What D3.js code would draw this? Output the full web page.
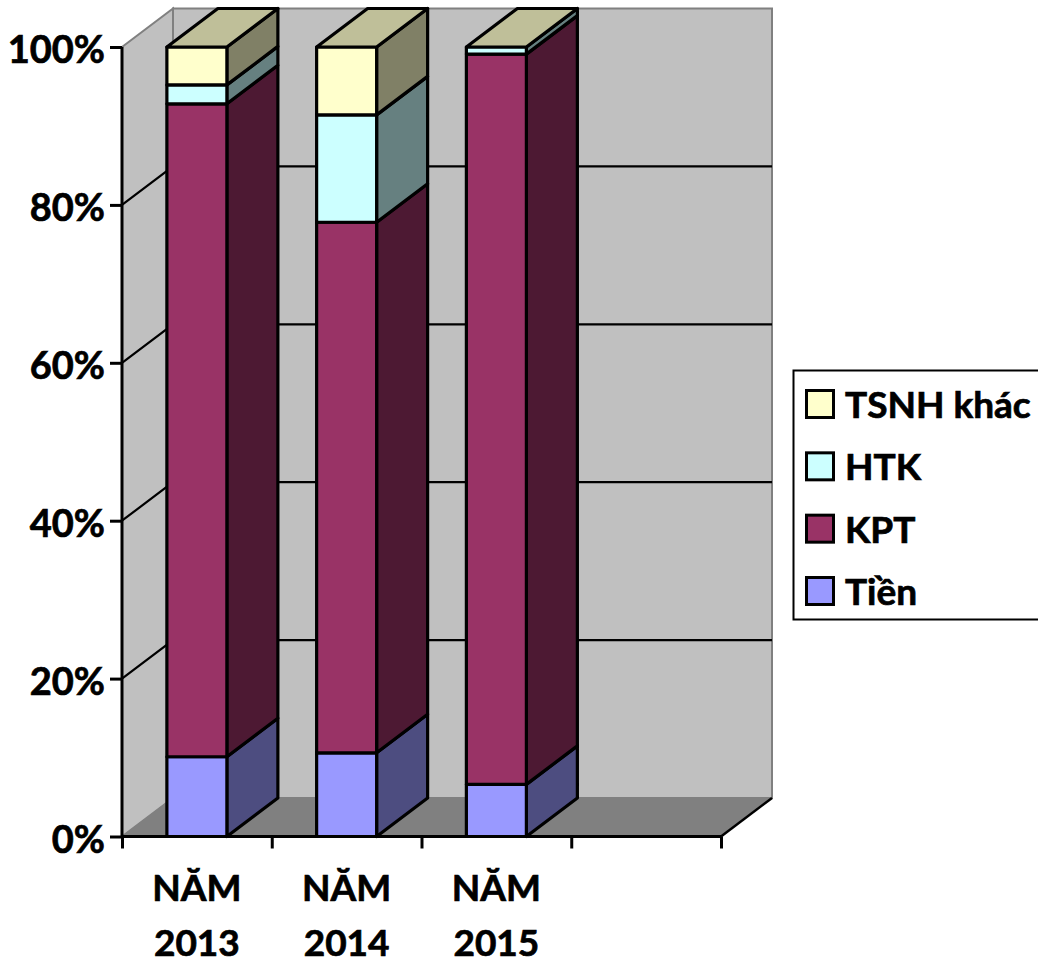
<!DOCTYPE html>
<html>
<head>
<meta charset="utf-8">
<script src="https://cdn.jsdelivr.net/npm/d3@7"></script>
<style>
  html, body { margin: 0; background: #fff; }
  svg { display: block; }
  text { font-family: Lato, "Open Sans", sans-serif; font-weight: 700; fill: #000; stroke: #000; stroke-width: 0.7px; }
</style>
</head>
<body>
<div id="chart"></div>
<script>
const years = ["NĂM 2013", "NĂM 2014", "NĂM 2015"];
const seriesNames = ["Tiền", "KPT", "HTK", "TSNH khác"];
const tien = [10.1, 10.6, 6.6];
const kpt = [82.7, 67.2, 92.5];
const htk = [2.4, 13.6, 0.9];
const khac = [4.8, 8.6, 0];
const yTicks = [0, 20, 40, 60, 80, 100];
const frontColors = ["#9999ff", "#993366", "#ccffff", "#ffffcc"];
const sideColors = ["#4d4d80", "#4d1933", "#668080", "#808066"];
const topColors = ["#bfbfe0", "#bf8099", "#bfe0e0", "#bfbf99"];

const width = 1038;
const height = 960;
const depthX = 51;   // 3d offset of the back wall
const depthY = -38.5;
const barWidth = 60;

const rows = years.map((y, i) => ({
  year: y,
  [seriesNames[0]]: tien[i],
  [seriesNames[1]]: kpt[i],
  [seriesNames[2]]: htk[i],
  [seriesNames[3]]: khac[i]
}));
const stacked = d3.stack().keys(seriesNames)(rows);

const svg = d3.select("#chart").append("svg")
  .attr("width", width)
  .attr("height", height)
  .attr("viewBox", `0 0 ${width} ${height}`);

const xScale = d3.scaleLinear().domain([0, 4]).range([122, 721]);
const yScale = d3.scaleLinear().domain([0, 100]).range([836.5, 47]);

const x0 = xScale(0), x1 = xScale(4);
const y0 = yScale(0), y1 = yScale(100);
const poly = pts => pts.map(p => p.join(",")).join(" ");

// walls
svg.append("polygon")
  .attr("points", poly([[x0 + depthX, y1 + depthY], [x1 + depthX, y1 + depthY], [x1 + depthX, y0 + depthY], [x0 + depthX, y0 + depthY]]))
  .attr("fill", "#c0c0c0").attr("stroke", "#808080").attr("stroke-width", 2);
svg.append("polygon")
  .attr("points", poly([[x0, y1], [x0 + depthX, y1 + depthY], [x0 + depthX, y0 + depthY], [x0, y0]]))
  .attr("fill", "#c0c0c0").attr("stroke", "#808080").attr("stroke-width", 2);
svg.append("polygon")
  .attr("points", poly([[x0, y0], [x0 + depthX, y0 + depthY], [x1 + depthX, y0 + depthY], [x1, y0]]))
  .attr("fill", "#808080").attr("stroke", "#808080").attr("stroke-width", 1);
svg.append("line")
  .attr("x1", x1).attr("y1", y0).attr("x2", x1 + depthX).attr("y2", y0 + depthY)
  .attr("stroke", "#000").attr("stroke-width", 2.5);

// gridlines
const gridTicks = yTicks.filter(t => t > 0 && t < 100);
svg.append("g").selectAll("polyline")
  .data(gridTicks)
  .join("polyline")
  .attr("points", t => poly([[x0, yScale(t)], [x0 + depthX, yScale(t) + depthY], [x1 + depthX, yScale(t) + depthY]]))
  .attr("fill", "none")
  .attr("stroke", "#000")
  .attr("stroke-width", 2.2);

// bars, bottom segment first
const barLayer = svg.append("g")
  .attr("stroke", "#000")
  .attr("stroke-width", 3.2)
  .attr("stroke-linejoin", "round");

years.forEach((year, i) => {
  const left = xScale(i + 0.5) - barWidth / 2;
  const right = left + barWidth;
  stacked.forEach((layer, s) => {
    const bottom = yScale(layer[i][0]);
    const top = yScale(layer[i][1]);
    if (layer[i][1] - layer[i][0] <= 0) return;
    barLayer.append("polygon")
      .attr("points", poly([[right, top], [right + depthX, top + depthY], [right + depthX, bottom + depthY], [right, bottom]]))
      .attr("fill", sideColors[s]);
    barLayer.append("rect")
      .attr("x", left).attr("y", top)
      .attr("width", barWidth).attr("height", bottom - top)
      .attr("fill", frontColors[s]);
  });
  // top face keeps the yellow series shade in all bars
  const topY = yScale(100);
  barLayer.append("polygon")
    .attr("points", poly([[left, topY], [left + depthX, topY + depthY], [right + depthX, topY + depthY], [right, topY]]))
    .attr("fill", topColors[3]);
});

// axes
const yAxis = svg.append("g")
  .attr("transform", `translate(${x0},0)`)
  .call(d3.axisLeft(yScale).tickValues(yTicks).tickFormat(d => d + "%").tickSize(12).tickPadding(5));
yAxis.selectAll("path, line").attr("stroke", "#000").attr("stroke-width", 3);
yAxis.select(".domain").attr("d", `M0,${y1}V${y0}`);
yAxis.selectAll("text")
  .attr("dy", "0.42em")
  .style("font-size", "38px")
  .style("font-family", "Lato")
  .style("font-weight", 700);

const xAxis = svg.append("g")
  .attr("transform", `translate(0,${y0})`)
  .call(d3.axisBottom(xScale).tickValues([0, 1, 2, 3, 4]).tickFormat("").tickSize(12));
xAxis.selectAll("path, line").attr("stroke", "#000").attr("stroke-width", 3);
xAxis.select(".domain").attr("d", `M${x0},0H${x1}`);

// category labels on two lines
const catLabels = svg.append("g").selectAll("text")
  .data(years)
  .join("text")
  .attr("text-anchor", "middle")
  .style("font-size", "37px");
catLabels.append("tspan")
  .attr("x", (d, i) => xScale(i + 0.5))
  .attr("y", 901)
  .text(d => d.split(" ")[0]);
catLabels.append("tspan")
  .attr("x", (d, i) => xScale(i + 0.5))
  .attr("y", 956)
  .text(d => d.split(" ")[1]);

// legend
svg.append("rect")
  .attr("x", 793.5).attr("y", 370.5)
  .attr("width", 260).attr("height", 249)
  .attr("fill", "#fff").attr("stroke", "#000").attr("stroke-width", 2);

const legendY = d3.scalePoint()
  .domain(seriesNames.slice().reverse())
  .range([404, 591]);
const legend = svg.append("g").selectAll("g")
  .data(seriesNames.slice().reverse())
  .join("g")
  .attr("transform", d => `translate(806,${legendY(d)})`);
legend.append("rect")
  .attr("x", 0.5).attr("y", -13.5)
  .attr("width", 27).attr("height", 27)
  .attr("fill", d => frontColors[seriesNames.indexOf(d)])
  .attr("stroke", "#000")
  .attr("stroke-width", 3);
legend.append("text")
  .attr("x", 39)
  .attr("y", 14)
  .style("font-size", "37px")
  .text(d => d);
</script>
</body>
</html>
